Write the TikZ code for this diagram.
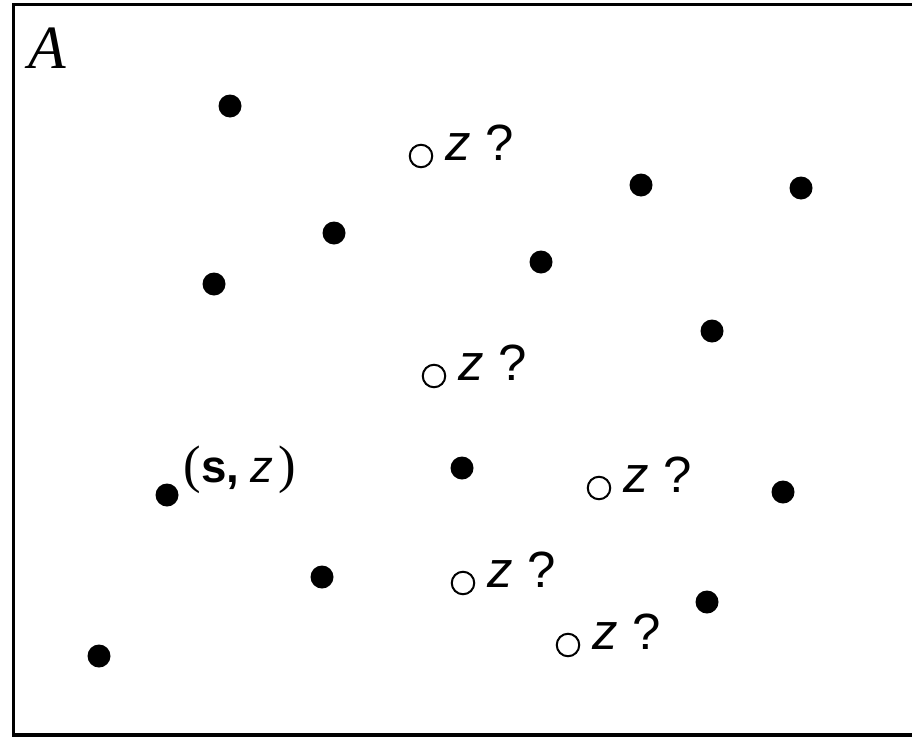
\documentclass[tikz,border=0pt]{standalone}
\usepackage{fontspec}
\setmainfont{Liberation Serif}
\setsansfont{Liberation Sans}
\usetikzlibrary{positioning}

\begin{document}
\begin{tikzpicture}[x=0.2mm, y=-0.2mm,
    obs/.style={circle, fill=black, inner sep=0pt, minimum size=4.6mm},
    miss/.style={circle, draw=black, line width=0.4mm, fill=white,
                 inner sep=0pt, minimum size=4.5mm},
    qlbl/.style={anchor=base west, inner sep=0pt,
                 font=\fontsize{29}{29}\selectfont\sffamily}]
  \useasboundingbox (0,0) rectangle (912,737);
  % region frame, open on the right
  \draw[line width=0.7mm] (912,4.5) -| (13.5,735) -- (912,735);
  \node[anchor=base west, inner sep=0pt, font=\fontsize{35}{35}\selectfont\itshape]
    (region) at (28,68) {A};

  % observed sites
  \node[obs] (s1)  at (230,106) {};
  \node[obs] (s2)  at (334,233) {};
  \node[obs] (s3)  at (214,284) {};
  \node[obs] (s4)  at (641,185) {};
  \node[obs] (s5)  at (801,188) {};
  \node[obs] (s6)  at (541,262) {};
  \node[obs] (s7)  at (712,331) {};
  \node[obs] (s8)  at (462,468) {};
  \node[obs] (s9)  at (167,495) {};
  \node[obs] (s10) at (783,492) {};
  \node[obs] (s11) at (322,577) {};
  \node[obs] (s12) at (707,602) {};
  \node[obs] (s13) at (99,656) {};
  \node[anchor=base west, inner sep=0pt, font=\fontsize{26}{26}\selectfont]
    (pair) at ([xshift=0.9mm, yshift=2.6mm]s9.east)
    {{\fontsize{30}{30}\selectfont(}\textsf{\textbf{s,}\hspace{2.2mm}\textit{z}}\hspace{1mm}{\fontsize{30}{30}\selectfont)}};

  % prediction sites
  \node[miss] (p1) at (421,156) {};
  \node[miss] (p2) at (434,376) {};
  \node[miss] (p3) at (599,488) {};
  \node[miss] (p4) at (463,583) {};
  \node[miss] (p5) at (568,645) {};
  \node[qlbl] (q1) at ([xshift=2.4mm, yshift=-0.8mm]p1.east) {\textit{z} ?};
  \node[qlbl] (q2) at ([xshift=2.4mm, yshift=-0.8mm]p2.east) {\textit{z} ?};
  \node[qlbl] (q3) at ([xshift=2.4mm, yshift=-0.8mm]p3.east) {\textit{z} ?};
  \node[qlbl] (q4) at ([xshift=2.4mm, yshift=-0.8mm]p4.east) {\textit{z} ?};
  \node[qlbl] (q5) at ([xshift=2.4mm, yshift=-0.8mm]p5.east) {\textit{z} ?};
\end{tikzpicture}
\end{document}
